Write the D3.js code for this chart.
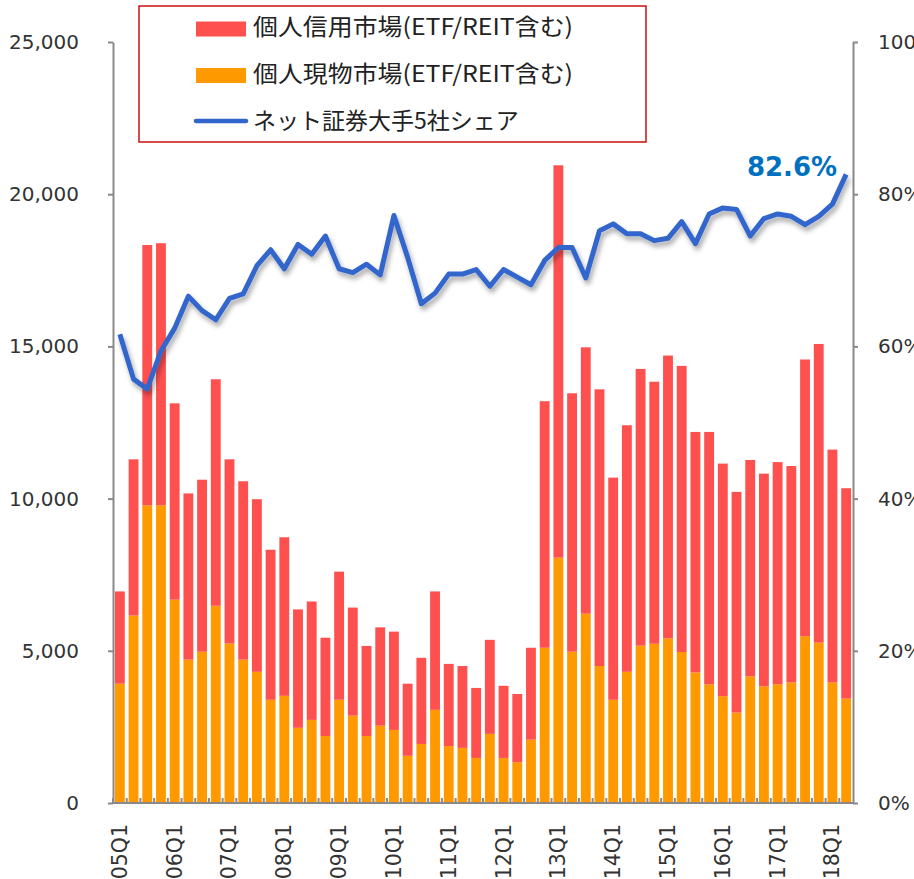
<!DOCTYPE html>
<html>
<head>
<meta charset="utf-8">
<script src="https://cdn.jsdelivr.net/npm/d3@7"></script>
<style>
  body { margin: 0; background: #fff; }
  svg text { fill: #333; }
</style>
</head>
<body>
<div id="chart"></div>
<script>
// quarters 05Q1 .. 18Q2
const quarters = [
  '05Q1','05Q2','05Q3','05Q4','06Q1','06Q2','06Q3','06Q4','07Q1','07Q2','07Q3','07Q4',
  '08Q1','08Q2','08Q3','08Q4','09Q1','09Q2','09Q3','09Q4','10Q1','10Q2','10Q3','10Q4',
  '11Q1','11Q2','11Q3','11Q4','12Q1','12Q2','12Q3','12Q4','13Q1','13Q2','13Q3','13Q4',
  '14Q1','14Q2','14Q3','14Q4','15Q1','15Q2','15Q3','15Q4','16Q1','16Q2','16Q3','16Q4',
  '17Q1','17Q2','17Q3','17Q4','18Q1','18Q2'
];
const xTickLabels = ['05Q1','06Q1','07Q1','08Q1','09Q1','10Q1','11Q1','12Q1','13Q1','14Q1','15Q1','16Q1','17Q1','18Q1'];

// 個人現物市場 (orange, bottom)
const cashValues = [
  3920, 6160, 9780, 9780, 6680, 4710, 4970, 6480, 5240, 4710, 4310, 3390,
  3520, 2470, 2730, 2200, 3390, 2870, 2200, 2540, 2400, 1550, 1940, 3060,
  1870, 1810, 1480, 2270, 1480, 1340, 2080, 5100, 8060, 4970, 6220, 4500,
  3390, 4310, 5170, 5230, 5410, 4960, 4290, 3900, 3510, 2970, 4160, 3830,
  3900, 3960, 5480, 5270, 3960, 3430
];
// 個人信用市場 (red, stacked on top)
const marginValues = [
  3030, 5130, 8550, 8610, 6450, 5460, 5650, 7440, 6050, 5860, 5670, 4930,
  5210, 3890, 3890, 3230, 4210, 3550, 2960, 3230, 3230, 2370, 2830, 3890,
  2700, 2690, 2300, 3090, 2370, 2240, 3020, 8100, 12890, 8490, 8750, 9090,
  7300, 8100, 9090, 8610, 9290, 9400, 7900, 8290, 7640, 7250, 7110, 6990,
  7300, 7110, 9090, 9810, 7650, 6910
];
// ネット証券大手5社シェア (%)
const shareValues = [
  61.6, 55.7, 54.4, 59.4, 62.4, 66.6, 64.7, 63.5, 66.3, 66.9, 70.6, 72.7,
  70.2, 73.4, 72.1, 74.5, 70.2, 69.7, 70.8, 69.4, 77.2, 71.7, 65.6, 67.0,
  69.5, 69.5, 70.1, 67.9, 70.1, 69.1, 68.1, 71.3, 73.0, 73.0, 69.0, 75.2,
  76.1, 74.8, 74.8, 73.9, 74.2, 76.4, 73.5, 77.4, 78.2, 78.0, 74.5, 76.8,
  77.4, 77.1, 76.0, 77.1, 78.7, 82.6
];
const leftTicks = [0, 5000, 10000, 15000, 20000, 25000];
const rightTicks = [0, 20, 40, 60, 80, 100];
const legendLabels = ['個人信用市場(ETF/REIT含む)', '個人現物市場(ETF/REIT含む)', 'ネット証券大手5社シェア'];

const W = 914, H = 879;
const plot = { left: 113, right: 853, top: 42, bottom: 803 };
const RED = '#FF5050', ORANGE = '#FF9900', BLUE = '#3366CC', AXIS = '#898989';

const svg = d3.select('#chart').append('svg')
    .attr('width', W)
    .attr('height', H);

// drop shadow for the share line
const defs = svg.append('defs');
defs.append('filter')
    .attr('id', 'shadow')
    .attr('x', '-10%').attr('y', '-20%')
    .attr('width', '120%').attr('height', '160%')
  .append('feDropShadow')
    .attr('dx', 2).attr('dy', 4)
    .attr('stdDeviation', 2.5)
    .attr('flood-color', '#000')
    .attr('flood-opacity', 0.35);

const x = d3.scaleBand()
    .domain(quarters)
    .range([plot.left, plot.right])
    .paddingInner(0.28)
    .paddingOuter(0.14);

const yLeft = d3.scaleLinear().domain([0, 25000]).range([plot.bottom, plot.top]);
const yRight = d3.scaleLinear().domain([0, 100]).range([plot.bottom, plot.top]);

// stacked bars
const rows = quarters.map((q, i) => ({ q, cash: cashValues[i], margin: marginValues[i] }));
const stack = d3.stack().keys(['cash', 'margin'])(rows);
const colors = { cash: ORANGE, margin: RED };

svg.append('g')
    .selectAll('g')
    .data(stack)
    .enter().append('g')
    .attr('fill', d => colors[d.key])
    .selectAll('rect')
    .data(d => d)
    .enter().append('rect')
    .attr('x', d => x(d.data.q))
    .attr('width', x.bandwidth())
    .attr('y', d => yLeft(d[1]))
    .attr('height', d => yLeft(d[0]) - yLeft(d[1]));

// left axis
const leftAxis = svg.append('g')
    .attr('transform', `translate(${plot.left},0)`)
    .call(d3.axisLeft(yLeft).tickValues(leftTicks).tickSize(5).tickSizeOuter(0).tickPadding(29)
        .tickFormat(d3.format(',')));
leftAxis.select('.domain').attr('stroke', AXIS).attr('stroke-width', 2);
leftAxis.selectAll('.tick line').attr('stroke', AXIS).attr('stroke-width', 2);
leftAxis.selectAll('text')
    .style('font-family', 'DejaVu Sans')
    .style('font-size', '20px')
    .style('fill', '#333');

// right axis (labels run off the right edge as in the original)
const rightAxis = svg.append('g')
    .attr('transform', `translate(${plot.right},0)`)
    .call(d3.axisRight(yRight).tickValues(rightTicks).tickSize(5).tickSizeOuter(0).tickPadding(20)
        .tickFormat(d => d + '%'));
rightAxis.select('.domain').attr('stroke', AXIS).attr('stroke-width', 2);
rightAxis.selectAll('.tick line').attr('stroke', AXIS).attr('stroke-width', 2);
rightAxis.selectAll('text')
    .style('font-family', 'DejaVu Sans')
    .style('font-size', '20px')
    .style('fill', '#333');

// bottom axis line with small ticks between bars
svg.append('line')
    .attr('x1', plot.left).attr('x2', plot.right)
    .attr('y1', plot.bottom).attr('y2', plot.bottom)
    .attr('stroke', AXIS).attr('stroke-width', 2);
const step = x.step();
svg.append('g')
    .selectAll('line')
    .data(quarters)
    .enter().append('line')
    .attr('x1', d => x(d) - step * x.paddingInner() / 2)
    .attr('x2', d => x(d) - step * x.paddingInner() / 2)
    .attr('y1', plot.bottom)
    .attr('y2', plot.bottom - 5)
    .attr('stroke', AXIS)
    .attr('stroke-width', 2);

// rotated x labels
svg.append('g')
    .selectAll('text')
    .data(xTickLabels)
    .enter().append('text')
    .attr('transform', d => `translate(${x(d) + x.bandwidth() / 2 + 7},824) rotate(-90)`)
    .attr('text-anchor', 'end')
    .style('font-family', 'DejaVu Sans')
    .style('font-size', '20.5px')
    .style('fill', '#333')
    .text(d => d);

// share line
const line = d3.line()
    .x((d, i) => x(quarters[i]) + x.bandwidth() / 2)
    .y(d => yRight(d));

svg.append('path')
    .datum(shareValues)
    .attr('d', line)
    .attr('fill', 'none')
    .attr('stroke', BLUE)
    .attr('stroke-width', 5)
    .attr('stroke-linejoin', 'round')
    .attr('filter', 'url(#shadow)');

// last value label
const lastIdx = shareValues.length - 1;
svg.append('text')
    .attr('x', x(quarters[lastIdx]) + x.bandwidth() / 2 - 9)
    .attr('y', yRight(shareValues[lastIdx]) + 2)
    .attr('text-anchor', 'end')
    .style('font-family', 'DejaVu Sans')
    .style('font-weight', 'bold')
    .style('font-size', '26px')
    .style('fill', '#0070C0')
    .text(shareValues[lastIdx].toFixed(1) + '%');

// legend
const legend = svg.append('g');
legend.append('rect')
    .attr('x', 139).attr('y', 6)
    .attr('width', 507).attr('height', 136)
    .attr('fill', '#fff')
    .attr('stroke', '#CC1111')
    .attr('stroke-width', 1.5);

const legendItems = [
  { label: legendLabels[0], color: RED, type: 'rect', y: 29, ty: 25, len: 320 },
  { label: legendLabels[1], color: ORANGE, type: 'rect', y: 75.5, ty: 72, len: 320 },
  { label: legendLabels[2], color: BLUE, type: 'line', y: 121, ty: 119, len: null }
];
legendItems.forEach(item => {
  if (item.type === 'rect') {
    legend.append('rect')
      .attr('x', 196).attr('y', item.y - 7.5)
      .attr('width', 50).attr('height', 15)
      .attr('fill', item.color);
  } else {
    legend.append('line')
      .attr('x1', 196).attr('x2', 246)
      .attr('y1', item.y).attr('y2', item.y)
      .attr('stroke', item.color)
      .attr('stroke-width', 4.5)
      .attr('stroke-linecap', 'round');
  }
  const t = legend.append('text')
    .attr('x', 253)
    .attr('y', item.ty)
    .attr('dominant-baseline', 'central')
    .style('font-family', 'Noto Sans CJK JP')
    .style('font-size', '23px')
    .style('fill', '#222')
    .text(item.label);
  if (item.len) t.attr('textLength', item.len).attr('lengthAdjust', 'spacingAndGlyphs');
});
</script>
</body>
</html>
